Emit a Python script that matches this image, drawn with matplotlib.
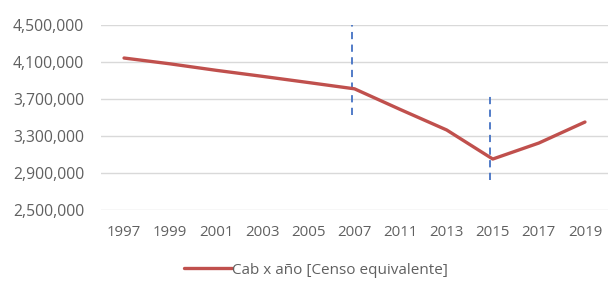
import matplotlib
matplotlib.use("Agg")
import matplotlib.pyplot as plt
from matplotlib.ticker import FuncFormatter

years = ["1997", "1999", "2001", "2003", "2005", "2007", "2011", "2013", "2015", "2017", "2019"]
values = [4143000, 4080000, 4010000, 3945000, 3878000, 3810000, 3585000, 3365000, 3051000, 3224000, 3451000]
yticks = [2500000, 2900000, 3300000, 3700000, 4100000, 4500000]
series_label = "Cab x año [Censo equivalente]"
# dashed marker lines: (category, y from, y to)
markers = [("2007", 3530000, 4500000), ("2015", 2825000, 3765000)]

fig = plt.figure(figsize=(6.08, 2.83), dpi=100)
ax = fig.add_axes([101/608, 1-210/283, 507/608, 185/283])

x = list(range(len(years)))
ax.plot(x, values, color="#C0504D", lw=2.4, label=series_label, solid_capstyle="round", zorder=3)
for cat, y0, y1 in markers:
    xi = years.index(cat)
    ax.plot([xi - 0.06, xi - 0.06], [y0, y1], color="#4472C4", lw=1.3, ls=(0, (4, 3)), zorder=2)

ax.set_xlim(-0.5, len(years) - 0.5)
ax.set_ylim(yticks[0], yticks[-1])
ax.set_yticks(yticks)
ax.set_xticks(x)
ax.set_xticklabels(years)
ax.yaxis.set_major_formatter(FuncFormatter(lambda v, p: f"{int(v):,}"))
ax.grid(axis="y", color="#D9D9D9", lw=1)
ax.set_axisbelow(True)
for s in ax.spines.values():
    s.set_visible(False)
ax.tick_params(axis="both", length=0, labelsize=10.8, colors="#606060")
ax.tick_params(axis="y", pad=12)
ax.tick_params(axis="x", pad=11)
for t in ax.get_xticklabels() + ax.get_yticklabels():
    t.set_family("Open Sans")
for t in ax.get_yticklabels():
    t.set_fontsize(11.3)

leg = fig.legend(loc="center", bbox_to_anchor=(0.52, 1 - 270/283), frameon=False,
                 prop={"family": "Open Sans", "size": 11.0}, handlelength=3.1, handletextpad=0.05)
for t in leg.get_texts():
    t.set_color("#606060")

fig.savefig("out.png", dpi=100)
